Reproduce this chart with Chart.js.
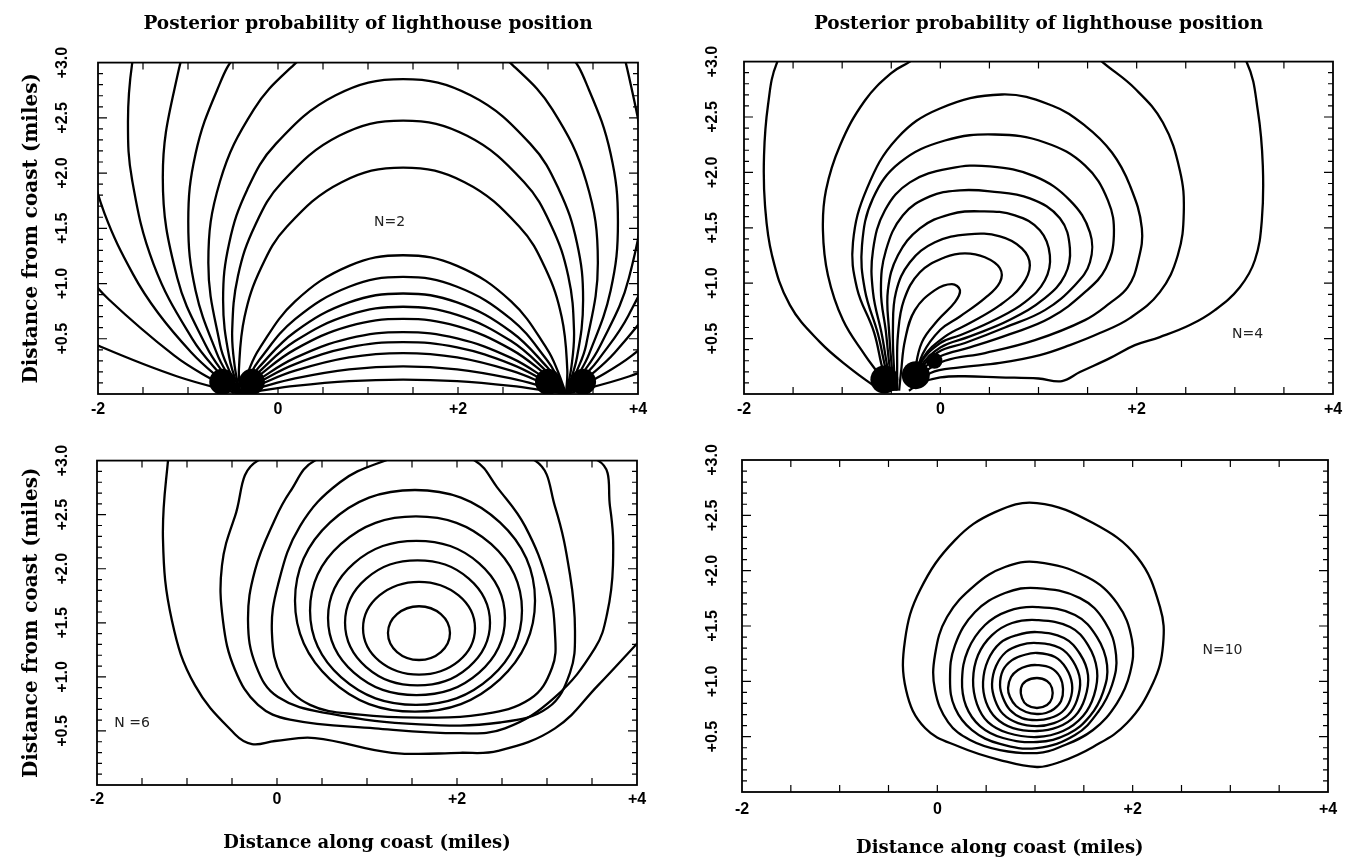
<!DOCTYPE html>
<html>
<head>
<meta charset="utf-8">
<title>Posterior probability of lighthouse position</title>
<script src="https://cdn.jsdelivr.net/npm/chart.js@4.4.1/dist/chart.umd.min.js"></script>
<style>
  html, body { margin: 0; padding: 0; background: #fff; }
  #wrap { position: relative; width: 1370px; height: 864px; overflow: hidden; }
  #wrap canvas { position: absolute; }
</style>
</head>
<body>
<div id="wrap">
  <canvas id="c1" width="690" height="432" style="left:0;top:0"></canvas>
  <canvas id="c2" width="680" height="432" style="left:690px;top:0"></canvas>
  <canvas id="c3" width="690" height="432" style="left:0;top:432px"></canvas>
  <canvas id="c4" width="680" height="432" style="left:690px;top:432px"></canvas>
</div>
<script>
var titleText = 'Posterior probability of lighthouse position';
var xAxisTitle = 'Distance along coast (miles)';
var yAxisTitle = 'Distance from coast (miles)';
var xTicks = [-2, 0, 2, 4];
var yTicks = [0.5, 1.0, 1.5, 2.0, 2.5, 3.0];
var panelLabels = ['N=2', 'N=4', 'N =6', 'N=10'];
var panelLabelX = [1.24, 3.13, -1.61, 2.92];
var panelLabelY = [1.55, 0.54, 0.57, 1.28];

// N=2: low arcs between the two flashes, read at shared x positions
var p1LowX = [-0.42, -0.33, -0.21, 0.19, 0.79, 1.39, 1.99, 2.59, 2.99, 3.11, 3.2];
var p1LowY = [
  [0, 0.204, 0.407, 0.838, 1.160, 1.256, 1.160, 0.838, 0.407, 0.204, 0],
  [0, 0.146, 0.306, 0.678, 0.971, 1.06, 0.971, 0.678, 0.306, 0.146, 0],
  [0, 0.113, 0.244, 0.564, 0.829, 0.91, 0.829, 0.564, 0.244, 0.113, 0],
  [0, 0.092, 0.201, 0.479, 0.716, 0.79, 0.716, 0.479, 0.201, 0.092, 0],
  [0, 0.075, 0.166, 0.404, 0.614, 0.68, 0.614, 0.404, 0.166, 0.075, 0],
  [0, 0.059, 0.132, 0.327, 0.503, 0.56, 0.503, 0.327, 0.132, 0.059, 0],
  [0, 0.049, 0.108, 0.271, 0.421, 0.47, 0.421, 0.271, 0.108, 0.049, 0],
  [0, 0.037, 0.083, 0.211, 0.331, 0.37, 0.331, 0.211, 0.083, 0.037, 0],
  [0, 0.025, 0.055, 0.141, 0.223, 0.25, 0.223, 0.141, 0.055, 0.025, 0],
  [0, 0.013, 0.028, 0.073, 0.116, 0.13, 0.116, 0.073, 0.028, 0.013, 0]
];
// N=2: wider arcs, some leaving the frame
var p1Arcs = [
  [[-0.42,0],[-0.434,0.226],[-0.372,0.698],[-0.19,1.138],[0.10,1.516],[0.707,1.917],[1.39,2.05],[2.073,1.917],[2.68,1.516],[2.97,1.138],[3.152,0.698],[3.214,0.226],[3.2,0]],
  [[-0.42,0],[-0.48,0.246],[-0.509,0.576],[-0.445,1.068],[-0.255,1.526],[0.047,1.919],[0.679,2.337],[1.39,2.475],[2.101,2.337],[2.733,1.919],[3.035,1.526],[3.225,1.068],[3.289,0.576],[3.26,0.246],[3.2,0]],
  [[-0.42,0],[-0.542,0.332],[-0.61,0.85],[-0.542,1.368],[-0.342,1.85],[-0.024,2.264],[0.641,2.704],[1.39,2.85],[2.139,2.704],[2.804,2.264],[3.122,1.85],[3.322,1.368],[3.39,0.85],[3.322,0.332],[3.2,0]],
  [[-0.42,0],[-0.538,0.204],[-0.644,0.446],[-0.774,1.186],[-0.644,1.926],[-0.268,2.577],[0.149,2.959],[0.476,3.147],[1.39,3.35],[2.304,3.147],[2.631,2.959],[3.048,2.577],[3.424,1.926],[3.554,1.186],[3.424,0.446],[3.318,0.204],[3.2,0]],
  [[-0.42,0],[-0.541,0.153],[-0.677,0.363],[-0.916,0.938],[-0.997,1.556],[-0.916,2.174],[-0.677,2.75],[-0.439,3.09],[0.574,3.80],[1.39,3.943],[2.206,3.80],[3.219,3.09],[3.457,2.75],[3.696,2.174],[3.777,1.556],[3.696,0.938],[3.457,0.363],[3.321,0.153],[3.2,0]],
  [[-0.42,0],[-0.594,0.176],[-0.797,0.432],[-1.119,1.05],[-1.28,1.963],[-1.119,2.876],[-0.922,3.298],[0.055,4.275],[1.39,4.633],[2.725,4.275],[3.702,3.298],[3.899,2.876],[4.06,1.963],[3.899,1.05],[3.577,0.432],[3.374,0.176],[3.2,0]],
  [[-0.42,0],[-0.655,0.192],[-0.952,0.499],[-1.381,1.172],[-1.62,1.933],[-1.667,2.464],[-1.62,2.995],[-1.483,3.51],[1.39,5.521],[4.263,3.51],[4.447,2.464],[4.263,1.418],[3.894,0.711],[3.552,0.302],[3.435,0.192],[3.2,0]],
  [[-0.42,0],[-0.709,0.182],[-0.963,0.376],[-1.33,0.731],[-1.608,1.081],[-1.927,1.633],[-2.145,2.233]],
  [[3.2,0],[3.489,0.182],[3.743,0.376],[4.194,0.827],[4.388,1.081]],
  [[-0.42,0],[-0.761,0.144],[-1.155,0.349],[-1.882,0.858],[-2.209,1.158]],
  [[3.2,0],[3.541,0.144],[3.935,0.349],[4.662,0.858]],
  [[-0.42,0],[-1.126,0.161],[-1.934,0.416],[-2.408,0.603]],
  [[3.2,0],[3.906,0.161],[4.714,0.416]]
];
var p1Blobs = [[-0.62,0.11],[-0.29,0.11],[3.0,0.11],[3.39,0.11]];
var p1BlobR = [13, 13, 13, 13];

// N=4
var p2Contours = [
  [[-0.616,0.036],[-0.921,0.234],[-1.226,0.468],[-1.532,0.802],[-1.715,1.252],[-1.786,1.703],[-1.796,2.153],[-1.756,2.604],[-1.664,2.991],[-1.35,3.5],[0.7,4.3],[2.75,3.5],[3.122,2.991],[3.234,2.559],[3.285,2.063],[3.275,1.568],[3.204,1.207],[3.051,0.964],[2.797,0.757],[2.542,0.622],[2.236,0.514],[1.982,0.441],[1.727,0.324],[1.422,0.198],[1.239,0.117],[1.0,0.14],[0.6,0.15],[0.25,0.16],[0,0.15],[-0.2,0.1],[-0.32,0.03]],
  [[-0.52,0.03],[-0.62,0.17],[-0.768,0.351],[-0.992,0.667],[-1.145,1.072],[-1.196,1.477],[-1.165,1.838],[-1.022,2.243],[-0.768,2.649],[-0.493,2.901],[-0.31,3.0],[0.0,3.2],[0.7,3.45],[1.4,3.2],[1.646,3.0],[1.982,2.757],[2.267,2.450],[2.440,2.018],[2.480,1.640],[2.419,1.252],[2.236,0.919],[1.931,0.685],[1.625,0.550],[1.320,0.441],[1.014,0.351],[0.607,0.28],[0.2,0.24],[-0.1,0.19],[-0.28,0.05]],
  [[-0.5,0.03],[-0.58,0.2],[-0.676,0.559],[-0.849,0.955],[-0.890,1.369],[-0.747,1.856],[-0.442,2.306],[-0.004,2.577],[0.627,2.703],[1.136,2.604],[1.473,2.423],[1.748,2.180],[1.931,1.883],[2.053,1.495],[2.012,1.189],[1.910,0.964],[1.727,0.820],[1.473,0.667],[0.964,0.486],[0.455,0.37],[0.046,0.30],[-0.2,0.17],[-0.28,0.05]],
  [[-0.49,0.03],[-0.55,0.2],[-0.635,0.541],[-0.768,0.937],[-0.798,1.342],[-0.686,1.766],[-0.411,2.090],[0.047,2.288],[0.556,2.342],[1.065,2.270],[1.473,2.063],[1.707,1.748],[1.768,1.432],[1.686,1.135],[1.473,0.919],[1.116,0.685],[0.709,0.54],[0.301,0.42],[0.0,0.34],[-0.2,0.2],[-0.28,0.05]],
  [[-0.48,0.03],[-0.53,0.2],[-0.595,0.532],[-0.686,0.919],[-0.686,1.297],[-0.564,1.658],[-0.310,1.910],[0.098,2.036],[0.505,2.054],[0.963,1.964],[1.320,1.748],[1.524,1.459],[1.524,1.189],[1.371,0.982],[1.065,0.757],[0.658,0.6],[0.251,0.46],[-0.02,0.38],[-0.2,0.22],[-0.28,0.05]],
  [[-0.47,0.03],[-0.51,0.2],[-0.554,0.559],[-0.605,0.937],[-0.554,1.297],[-0.381,1.613],[-0.106,1.784],[0.200,1.838],[0.505,1.829],[0.912,1.766],[1.218,1.586],[1.320,1.315],[1.269,1.072],[1.065,0.865],[0.709,0.67],[0.301,0.52],[0.0,0.42],[-0.2,0.25],[-0.28,0.05]],
  [[-0.46,0.03],[-0.49,0.2],[-0.523,0.577],[-0.534,0.937],[-0.432,1.252],[-0.208,1.495],[0.098,1.622],[0.403,1.649],[0.760,1.613],[1.014,1.477],[1.116,1.252],[1.065,1.027],[0.862,0.829],[0.556,0.67],[0.2,0.53],[0.0,0.46],[-0.2,0.28],[-0.28,0.05]],
  [[-0.45,0.03],[-0.47,0.2],[-0.483,0.577],[-0.452,0.919],[-0.310,1.189],[-0.055,1.369],[0.281,1.441],[0.607,1.423],[0.831,1.315],[0.912,1.162],[0.831,0.982],[0.607,0.802],[0.301,0.64],[0.05,0.52],[-0.18,0.32],[-0.28,0.05]],
  [[-0.44,0.03],[-0.44,0.2],[-0.432,0.532],[-0.371,0.847],[-0.208,1.099],[0.047,1.234],[0.251,1.270],[0.454,1.234],[0.607,1.135],[0.607,1.009],[0.454,0.865],[0.2,0.7],[0.0,0.58],[-0.18,0.36],[-0.28,0.05]],
  [[-0.42,0.03],[-0.4,0.2],[-0.360,0.486],[-0.259,0.757],[-0.055,0.937],[0.118,0.991],[0.200,0.937],[0.149,0.829],[-0.024,0.667],[-0.187,0.468],[-0.26,0.2],[-0.28,0.05]]
];
var p2Blobs = [[-0.57,0.13],[-0.25,0.17],[-0.06,0.3]];
var p2BlobR = [14, 14, 8];

// N=6: closed loops, then the outermost open contour
var p3Loops = [
  [[1.578,1.653],[1.821,1.580],[1.922,1.405],[1.821,1.229],[1.578,1.156],[1.334,1.229],[1.233,1.405],[1.334,1.580]],
  [[1.578,1.879],[2.018,1.753],[2.2,1.450],[2.018,1.146],[1.578,1.021],[1.138,1.146],[0.956,1.450],[1.138,1.753]],
  [[1.561,2.078],[2.131,1.909],[2.367,1.500],[2.131,1.091],[1.561,0.921],[0.991,1.091],[0.756,1.500],[0.991,1.909]],
  [[1.550,2.258],[2.246,2.050],[2.533,1.545],[2.246,1.040],[1.550,0.831],[0.854,1.040],[0.567,1.545],[0.854,2.050]],
  [[1.544,2.484],[2.378,2.229],[2.722,1.613],[2.378,0.997],[1.544,0.741],[0.711,0.997],[0.367,1.613],[0.711,2.229]],
  [[1.533,2.728],[2.477,2.428],[2.867,1.703],[2.477,0.977],[1.533,0.678],[0.590,0.977],[0.2,1.703],[0.590,2.428]],
  [[1.7,3.12],[1.2,3.0],[0.7,2.8],[0.256,2.394],[0.011,1.852],[-0.056,1.400],[0.056,0.994],[0.367,0.741],[0.922,0.650],[1.589,0.623],[2.256,0.650],[2.811,0.795],[3.056,1.084],[3.089,1.400],[3.011,1.852],[2.756,2.394],[2.444,2.755],[2.2,2.999]],
  [[1.65,3.35],[0.422,3.0],[0.144,2.710],[-0.022,2.457],[-0.244,1.987],[-0.322,1.518],[-0.233,1.102],[0.011,0.813],[0.589,0.659],[1.589,0.560],[2.478,0.578],[3.011,0.715],[3.256,1.039],[3.311,1.427],[3.256,1.942],[3.089,2.575],[2.867,3.0]],
  [[1.7,3.5],[-0.211,3.0],[-0.467,2.484],[-0.611,2.033],[-0.6,1.518],[-0.467,1.066],[-0.211,0.741],[0.144,0.605],[1.089,0.524],[2.033,0.479],[2.533,0.524],[3.089,0.813],[3.533,1.265],[3.667,1.581],[3.733,2.033],[3.7,2.575],[3.567,3.0]]
];
var p3Open = [
  [[-1.15,3.3],[-1.211,3.0],[-1.267,2.276],[-1.167,1.518],[-0.911,0.921],[-0.467,0.470],[-0.278,0.379],[-0.022,0.407],[0.422,0.434],[1.278,0.298],[2.033,0.298],[2.456,0.316],[3.089,0.524],[3.567,0.921],[4.033,1.337]]
];

// N=10: nested closed loops, outer to inner
var p4Loops = [
  [[1.020,2.611],[1.594,2.430],[2.045,2.123],[2.280,1.671],[2.311,1.328],[2.209,0.985],[1.942,0.623],[1.594,0.407],[1.256,0.271],[1.020,0.226],[0.642,0.289],[0.232,0.407],[-0.126,0.578],[-0.320,0.921],[-0.331,1.373],[-0.177,1.825],[0.181,2.276],[0.591,2.529]],
  [[1.020,2.078],[1.533,1.942],[1.840,1.707],[1.993,1.373],[1.973,1.075],[1.840,0.804],[1.594,0.560],[1.256,0.407],[1.020,0.352],[0.642,0.379],[0.335,0.470],[0.110,0.632],[-0.024,0.921],[-0.024,1.238],[0.099,1.581],[0.386,1.870],[0.693,2.033]],
  [[1.020,1.843],[1.461,1.752],[1.717,1.536],[1.830,1.238],[1.789,0.967],[1.646,0.723],[1.410,0.515],[1.020,0.397],[0.642,0.434],[0.355,0.560],[0.181,0.759],[0.130,1.012],[0.181,1.328],[0.386,1.626],[0.693,1.798]],
  [[1.020,1.671],[1.410,1.599],[1.635,1.400],[1.738,1.147],[1.697,0.903],[1.563,0.687],[1.338,0.524],[1.020,0.452],[0.673,0.488],[0.437,0.596],[0.294,0.777],[0.253,1.012],[0.314,1.283],[0.488,1.509],[0.724,1.635]],
  [[1.020,1.554],[1.359,1.491],[1.543,1.328],[1.635,1.102],[1.605,0.876],[1.492,0.687],[1.287,0.551],[1.020,0.497],[0.724,0.533],[0.519,0.632],[0.406,0.795],[0.366,1.012],[0.417,1.238],[0.560,1.418],[0.765,1.527]],
  [[1.020,1.445],[1.297,1.391],[1.461,1.247],[1.543,1.057],[1.512,0.849],[1.410,0.687],[1.236,0.587],[1.020,0.551],[0.775,0.578],[0.601,0.668],[0.499,0.813],[0.468,0.994],[0.519,1.192],[0.642,1.346],[0.816,1.418]],
  [[1.020,1.346],[1.256,1.301],[1.389,1.183],[1.461,1.012],[1.430,0.831],[1.338,0.696],[1.195,0.623],[1.020,0.596],[0.826,0.623],[0.673,0.705],[0.591,0.831],[0.560,0.976],[0.601,1.138],[0.703,1.265],[0.847,1.328]],
  [[1.020,1.256],[1.205,1.220],[1.318,1.120],[1.379,0.976],[1.359,0.831],[1.277,0.723],[1.154,0.668],[1.020,0.650],[0.867,0.668],[0.744,0.741],[0.673,0.849],[0.642,0.967],[0.673,1.102],[0.765,1.192],[0.888,1.238]],
  [[1.020,1.147],[1.164,1.120],[1.256,1.039],[1.287,0.930],[1.267,0.822],[1.195,0.750],[1.112,0.714],[1.020,0.705],[0.908,0.723],[0.806,0.777],[0.744,0.858],[0.724,0.939],[0.755,1.039],[0.826,1.102],[0.918,1.138]],
  [[1.020,1.030],[1.123,1.003],[1.174,0.939],[1.174,0.849],[1.123,0.786],[1.020,0.759],[0.918,0.786],[0.867,0.849],[0.857,0.939],[0.908,1.003]]
];

function lineSet(points) {
  return { data: points, showLine: true, pointRadius: 0, borderColor: '#000', borderWidth: 2.3, tension: 0.4, fill: false };
}
// close a loop: run three points past the start, hide the two end pieces
// so every visible piece has neighbours on both sides
function loopSet(points) {
  var pts = points.concat([points[0], points[1], points[2]]);
  var last = pts.length - 1;
  var ds = lineSet(pts);
  ds.segment = {
    borderColor: function (c) {
      return (c.p0DataIndex === 0 || c.p1DataIndex === last) ? 'rgba(0,0,0,0)' : '#000';
    }
  };
  return ds;
}
function blobSet(points, radii) {
  return { data: points, showLine: false, pointRadius: radii, pointBackgroundColor: '#000', pointBorderWidth: 0, clip: 0 };
}

// frame, inward ticks, N label and x title
var framePlugin = {
  id: 'frame',
  afterDatasetsDraw: function (chart, args, opts) {
    var ctx = chart.ctx, a = chart.chartArea;
    var xs = chart.scales.x, ys = chart.scales.y;
    var v, k, p, len;
    ctx.save();
    ctx.strokeStyle = '#000';
    ctx.lineWidth = 1.8;
    ctx.strokeRect(a.left, a.top, a.right - a.left, a.bottom - a.top);
    ctx.lineWidth = 1.2;
    ctx.beginPath();
    for (v = -1.5; v < 4; v += 0.5) {
      p = xs.getPixelForValue(v);
      ctx.moveTo(p, a.bottom); ctx.lineTo(p, a.bottom - 7);
      ctx.moveTo(p, a.top); ctx.lineTo(p, a.top + 7);
    }
    for (k = 1; k < 30; k++) {
      p = ys.getPixelForValue(k / 10);
      len = k % 5 === 0 ? 9 : 5;
      ctx.moveTo(a.left, p); ctx.lineTo(a.left + len, p);
      ctx.moveTo(a.right, p); ctx.lineTo(a.right - len, p);
    }
    ctx.stroke();
    ctx.fillStyle = '#222';
    ctx.font = '14px "DejaVu Sans", sans-serif';
    ctx.textAlign = 'center';
    ctx.textBaseline = 'middle';
    ctx.fillText(opts.label, xs.getPixelForValue(opts.lx), ys.getPixelForValue(opts.ly));
    if (opts.xTitle) {
      ctx.fillStyle = '#000';
      ctx.font = 'bold 18px "DejaVu Serif", serif';
      ctx.fillText(opts.xTitle, xs.getPixelForValue(opts.xTitleAt), a.bottom + opts.xTitleDy);
    }
    ctx.restore();
  }
};

function buildChart(id, datasets, cfg) {
  var tickFont = { family: '"Liberation Sans", Arial, sans-serif', size: 16, weight: 'bold' };
  var titleFont = { family: '"DejaVu Serif", serif', size: 18.5, weight: 'bold' };
  var yTitleFont = { family: '"DejaVu Serif", serif', size: 20, weight: 'bold' };
  return new Chart(document.getElementById(id), {
    type: 'scatter',
    data: { datasets: datasets },
    options: {
      responsive: false,
      animation: false,
      events: [],
      layout: { padding: { top: cfg.padTop, right: cfg.padRight, bottom: 0, left: 0 } },
      elements: { line: { capBezierPoints: false } },
      plugins: {
        legend: { display: false },
        tooltip: { enabled: false },
        title: {
          display: cfg.title,
          text: titleText,
          fullSize: false,
          color: '#000',
          font: titleFont,
          padding: { top: 13, bottom: cfg.titleGap }
        },
        frame: {
          label: panelLabels[cfg.n], lx: panelLabelX[cfg.n], ly: panelLabelY[cfg.n],
          xTitle: cfg.xTitle ? xAxisTitle : '', xTitleAt: cfg.xTitleAt, xTitleDy: cfg.xTitleDy
        }
      },
      scales: {
        x: {
          type: 'linear', min: -2, max: 4,
          grid: { display: false, drawTicks: false },
          border: { display: false },
          afterBuildTicks: function (s) { s.ticks = xTicks.map(function (v) { return { value: v }; }); },
          afterFit: function (s) { s.height = cfg.xHeight; },
          ticks: {
            color: '#000', font: tickFont, padding: cfg.xPad, maxRotation: 0, autoSkip: false,
            callback: function (v) { return v > 0 ? '+' + v : String(v); }
          }
        },
        y: {
          type: 'linear', min: 0, max: 3,
          grid: { display: false, drawTicks: false },
          border: { display: false },
          afterBuildTicks: function (s) { s.ticks = yTicks.map(function (v) { return { value: v }; }); },
          afterFit: function (s) { s.width = cfg.yWidth; },
          ticks: {
            color: '#000', font: tickFont, padding: cfg.yPad, minRotation: 90, maxRotation: 90,
            crossAlign: 'center', autoSkip: false,
            callback: function (v) { return '+' + v.toFixed(1); }
          },
          title: {
            display: cfg.yTitle, text: yAxisTitle, color: '#000', font: yTitleFont,
            padding: { top: 20, bottom: 0 }
          }
        }
      }
    },
    plugins: [framePlugin]
  });
}

document.addEventListener('DOMContentLoaded', function () {
  var sets1 = [blobSet(p1Blobs, p1BlobR)];
  p1LowY.forEach(function (ys) {
    sets1.push(lineSet(p1LowX.map(function (x, i) { return [x, ys[i]]; })));
  });
  p1Arcs.forEach(function (pts) { sets1.push(lineSet(pts)); });

  var sets2 = [blobSet(p2Blobs, p2BlobR)];
  p2Contours.forEach(function (pts) { sets2.push(lineSet(pts)); });

  var sets3 = [];
  p3Loops.forEach(function (pts) { sets3.push(loopSet(pts)); });
  p3Open.forEach(function (pts) { sets3.push(lineSet(pts)); });

  var sets4 = [];
  p4Loops.forEach(function (pts) { sets4.push(loopSet(pts)); });

  buildChart('c1', sets1, { n: 0, title: true, titleGap: 27.4, padTop: 0, padRight: 52, xHeight: 38, yWidth: 98, xPad: 6, yPad: 20, yTitle: true, xTitle: false });
  buildChart('c2', sets2, { n: 1, title: true, titleGap: 26.4, padTop: 0, padRight: 37, xHeight: 38, yWidth: 54, xPad: 6, yPad: 16, yTitle: false, xTitle: false });
  buildChart('c3', sets3, { n: 2, title: false, titleGap: 0, padTop: 21, padRight: 53, xHeight: 79, yWidth: 97, xPad: 5, yPad: 19, yTitle: true, xTitle: true, xTitleAt: 1.0, xTitleDy: 58 });
  buildChart('c4', sets4, { n: 3, title: false, titleGap: 0, padTop: 28, padRight: 42, xHeight: 72, yWidth: 52, xPad: 8, yPad: 14, yTitle: false, xTitle: true, xTitleAt: 0.64, xTitleDy: 56 });
});
</script>
</body>
</html>
